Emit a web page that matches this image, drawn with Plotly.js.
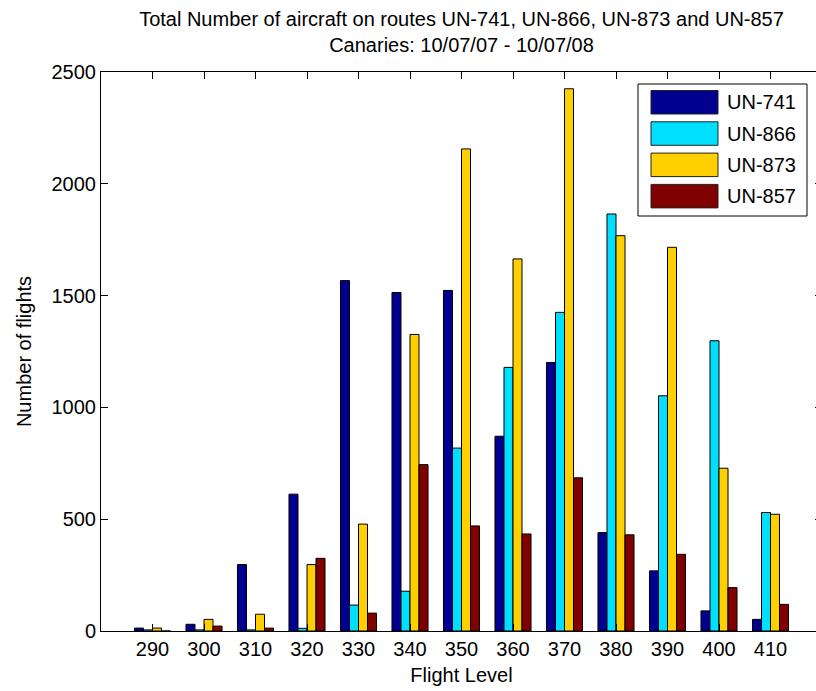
<!DOCTYPE html>
<html>
<head>
<meta charset="utf-8">
<script src="https://cdn.plot.ly/plotly-3.0.1.min.js"></script>
<style>
  html, body { margin: 0; padding: 0; overflow: hidden; background: #fff; }
  #chart { width: 836px; height: 691px; }
</style>
</head>
<body>
<div id="chart"></div>
<script>
// Flight levels on the x axis
const flightLevels = [290, 300, 310, 320, 330, 340, 350, 360, 370, 380, 390, 400, 410];

// Number of flights per route at each flight level
const un741 = [13, 30, 297, 612, 1567, 1514, 1523, 871, 1201, 440, 269, 90, 52];
const un866 = [5, 5, 5, 12, 116, 178, 818, 1179, 1425, 1865, 1052, 1298, 530];
const un873 = [13, 52, 75, 297, 478, 1326, 2156, 1664, 2425, 1768, 1716, 728, 522];
const un857 = [0, 22, 13, 325, 80, 744, 470, 434, 685, 430, 343, 194, 119];

const routeNames = ['UN-741', 'UN-866', 'UN-873', 'UN-857'];
const routeValues = [un741, un866, un873, un857];
const routeColors = ['#000090', '#00DFFF', '#FFCF00', '#800000'];

const yTicks = [0, 500, 1000, 1500, 2000, 2500];

const FONT = 'Liberation Sans, Arial, Helvetica, sans-serif';

const traces = routeNames.map((name, i) => ({
  type: 'bar',
  name: name,
  x: flightLevels,
  y: routeValues[i],
  marker: { color: routeColors[i], line: { color: '#000', width: 1 } },
  showlegend: false,
  hoverinfo: 'x+y+name'
}));

// Plot area geometry in pixels
const W = 836, H = 691;
const M = { l: 101, r: 14, t: 72, b: 60 };
const PW = W - M.l - M.r, PH = H - M.t - M.b;
const px2x = px => (px - M.l) / PW;
const px2y = py => 1 - (py - M.t) / PH;

// Boxed legend in the upper right corner
const shapes = [];
const annotations = [];
shapes.push({
  type: 'rect', xref: 'paper', yref: 'paper',
  x0: px2x(638), x1: px2x(807), y0: px2y(216), y1: px2y(84),
  line: { color: '#000', width: 1 }, fillcolor: '#fff', layer: 'above'
});
routeNames.forEach((name, i) => {
  const top = 90.5 + i * 31.3;
  shapes.push({
    type: 'rect', xref: 'paper', yref: 'paper',
    x0: px2x(651), x1: px2x(718), y0: px2y(top + 23.5), y1: px2y(top),
    line: { color: '#222', width: 1 }, fillcolor: routeColors[i], layer: 'above'
  });
  annotations.push({
    xref: 'paper', yref: 'paper', x: px2x(725), y: px2y(top + 11.8),
    xanchor: 'left', yanchor: 'middle', showarrow: false,
    text: name, font: { family: FONT, size: 20, color: '#000' }
  });
});

const layout = {
  width: W, height: H,
  margin: M,
  paper_bgcolor: '#fff', plot_bgcolor: '#fff',
  font: { family: FONT, size: 20, color: '#000' },
  barmode: 'group',
  bargap: 0.3,
  bargroupgap: 0,
  title: {
    text: 'Total Number of aircraft on routes UN-741, UN-866, UN-873 and UN-857<br>Canaries: 10/07/07 - 10/07/08',
    font: { family: FONT, size: 20, color: '#000' },
    x: 0.5, xref: 'paper', xanchor: 'center',
    y: 1 - 26 / H, yref: 'container', yanchor: 'top'
  },
  xaxis: {
    range: [280, 420],
    tickmode: 'array', tickvals: flightLevels, ticktext: flightLevels.map(String),
    ticks: 'inside', ticklen: 7, tickcolor: '#000',
    showline: true, linecolor: '#000', linewidth: 1, mirror: 'ticks',
    showgrid: false, zeroline: false,
    tickfont: { family: FONT, size: 20 },
    title: { text: 'Flight Level', font: { family: FONT, size: 20 }, standoff: 8 }
  },
  yaxis: {
    range: [0, 2500],
    tickmode: 'array', tickvals: yTicks, ticktext: yTicks.map(String),
    ticks: 'inside', ticklen: 7, tickcolor: '#000',
    showline: true, linecolor: '#000', linewidth: 1, mirror: 'ticks',
    showgrid: false, zeroline: false,
    tickfont: { family: FONT, size: 20 },
    title: { text: 'Number of flights', font: { family: FONT, size: 20 }, standoff: 14 }
  },
  shapes: shapes,
  annotations: annotations
};

Plotly.newPlot('chart', traces, layout, { displayModeBar: false, staticPlot: true });
</script>
</body>
</html>
